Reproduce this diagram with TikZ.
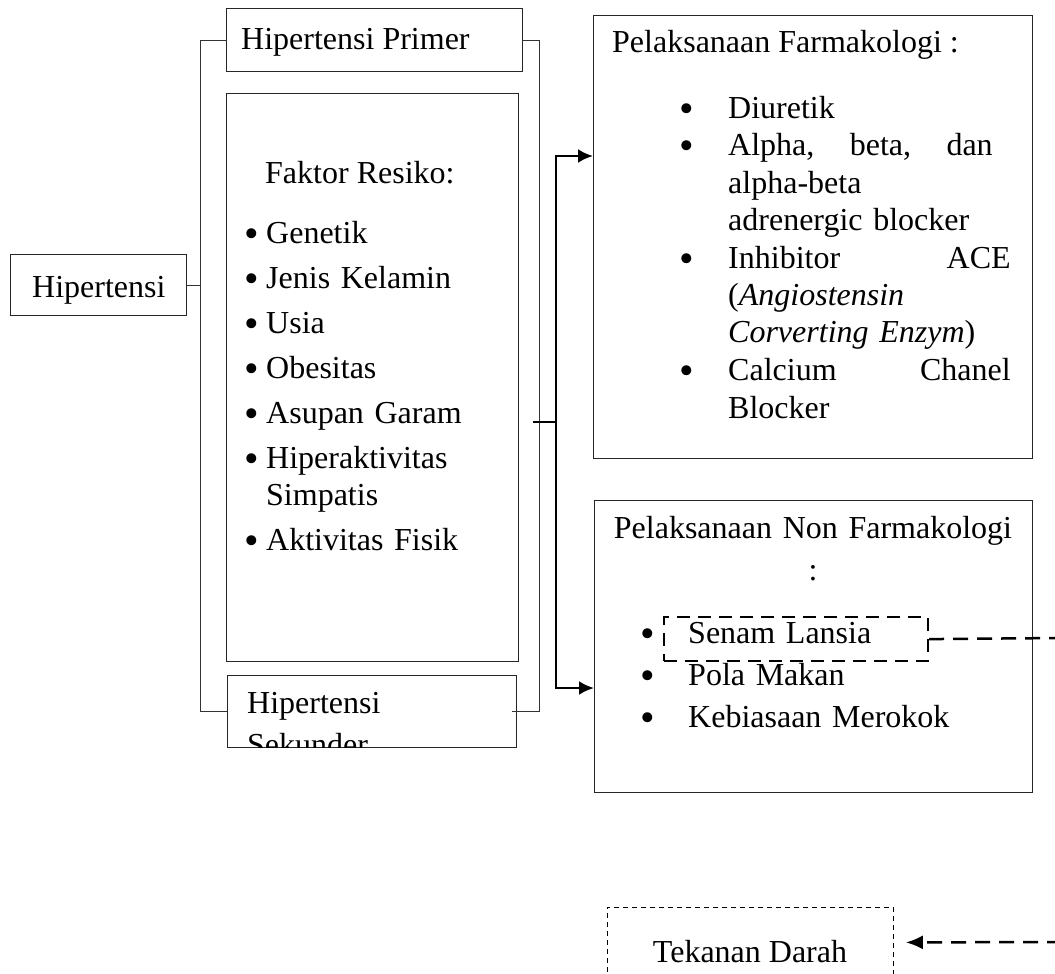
\documentclass[tikz,border=0pt]{standalone}
\usepackage{fontspec}
\setmainfont{Liberation Serif}
\usetikzlibrary{arrows.meta}

\newcommand{\bigdot}{\raisebox{-4pt}{\scalebox{1.3}{\textbullet}}}
\newcommand{\bitem}[2]{\noindent\hangindent=#1\hangafter=1\makebox[#1][l]{\bigdot}\ignorespaces#2\par}

\begin{document}
\begin{tikzpicture}[
			x=1pt, y=-1pt,
			every node/.style={font=\fontsize{32}{37.5}\selectfont},
			box/.style={draw=black!85, line width=1pt, inner sep=0pt, anchor=north west},
			txt/.style={inner sep=0pt, anchor=base west},
			link/.style={draw=black!80, line width=0.9pt},
			flow/.style={>={Latex[length=15pt,width=14pt]}, draw=black, line width=2.6pt},
			cut/.style={>={Latex[length=17pt,width=14pt]}, draw=black, line width=2.5pt, dash pattern=on 15pt off 9pt},
			cutbox/.style={box, draw=black, line width=2.2pt, dash pattern=on 13pt off 8pt},
			thinbox/.style={box, draw=black, line width=0.8pt, dash pattern=on 5pt off 4pt}
			]
			\useasboundingbox (0,0) rectangle (1055,974);
			% boxes
			\node[box, minimum width=176pt, minimum height=61pt] (hip) at (10,254) {};
			\node[box, minimum width=296pt, minimum height=63pt] (primer) at (226,8) {};
			\node[box, minimum width=292pt, minimum height=568pt] (faktor) at (226,93) {};
			\node[box, minimum width=289pt, minimum height=72pt] (sekunder) at (227,675) {};
			\node[box, minimum width=439pt, minimum height=443pt] (farm) at (593,15) {};
			\node[box, minimum width=438pt, minimum height=292pt] (nonfarm) at (594,500) {};
			\node[cutbox, minimum width=264pt, minimum height=44pt] (senam) at (663,616) {};
			\node[thinbox, minimum width=286pt, minimum height=70pt] (tekanan) at (607,907) {};
			% texts
			\node[txt] (hiptxt) at (32,297) {Hipertensi};
			\node[txt] (primertxt) at (241,50) {Hipertensi Primer};
			\node[txt] (faktortxt) at (265,183) {Faktor Resiko:};
			\node[txt, text width=260pt] (faktorlist) at (244,243) {\setlength{\parskip}{7.5pt}%
				\bitem{22pt}{Genetik}\bitem{22pt}{Jenis Kelamin}\bitem{22pt}{Usia}%
				\bitem{22pt}{Obesitas}\bitem{22pt}{Asupan Garam}%
				\bitem{22pt}{Hiperaktivitas\newline Simpatis}\bitem{22pt}{Aktivitas Fisik}};
			\begin{scope}
				\clip ([shift={(1pt,1pt)}]sekunder.south west) rectangle ([shift={(-1pt,-1pt)}]sekunder.north east);
				\node[txt, text width=260pt] (sekundertxt) at (247,713) {Hipertensi\\[5pt]Sekunder};
			\end{scope}
			\node[txt] (farmtxt) at (612,53) {Pelaksanaan Farmakologi :};
			\node[txt, text width=331pt] (farmlist) at (679.5,118) {%
				\bitem{48.5pt}{Diuretik}%
				\bitem{48.5pt}{Alpha,\hfill beta,\hfill dan\hspace*{18pt}\newline alpha-beta\newline adrenergic blocker}%
				\bitem{48.5pt}{Inhibitor\hfill ACE\newline (\textit{Angiostensin}\newline \textit{Corverting Enzym})}%
				\bitem{48.5pt}{Calcium\hfill Chanel\newline Blocker}};
			\node[txt, anchor=base, text width=420pt, align=center] (nonfarmtxt) at (813,538) {%
				Pelaksanaan Non Farmakologi\\[4.5pt]:};
			\node[txt, text width=380pt] (nonfarmlist) at (640.5,643) {\setlength{\parskip}{4.5pt}%
				\bitem{47.5pt}{Senam Lansia}\bitem{47.5pt}{Pola Makan}\bitem{47.5pt}{Kebiasaan Merokok}};
			\node[txt, anchor=base] (tekanantxt) at (750,962) {Tekanan Darah};
			% connectors
			\coordinate (stub) at (533,422);
			\coordinate (split) at (556,422);
			\coordinate (farmin) at (593,156);
			\coordinate (nonfarmin) at (594,688);
			\coordinate (edgetop) at (1062,638);
			\coordinate (edgebot) at (1062,942);
			\draw[link] (hip.east) -- ++(14,0);
			\draw[link] (primer.west) -- ++(-26,0) |- (sekunder.west);
			\draw[link] (primer.east) -- ++(16,0) |- ([xshift=-5pt]sekunder.east);
			\draw[flow] (stub) -- (split);
			\draw[flow, ->] (split) |- (farmin);
			\draw[flow, ->] (split) |- (nonfarmin);
			\draw[cut] (senam.east) -- (edgetop);
			\draw[cut, ->] (edgebot) -- ([xshift=12pt]tekanan.east);
		\end{tikzpicture}
\end{document}
